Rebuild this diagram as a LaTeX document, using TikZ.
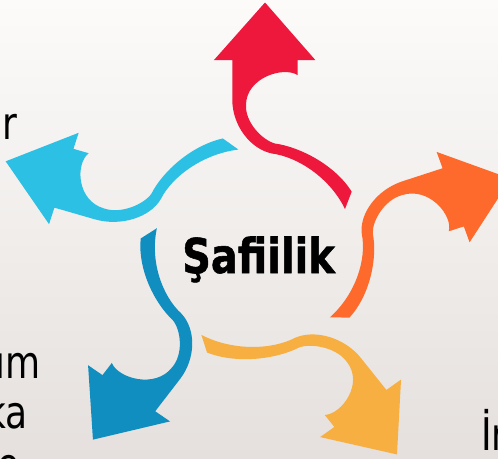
\documentclass[tikz,border=0pt]{standalone}
\usepackage{fontspec}
\setmainfont{DejaVu Sans}
\newfontfamily\titlefont[FakeBold=1.2]{DejaVu Sans Bold}
\usepackage{graphicx}
\definecolor{cRed}{RGB}{238,24,60}
\definecolor{cOrange}{RGB}{253,106,44}
\definecolor{cYellow}{RGB}{246,175,64}
\definecolor{cDarkBlue}{RGB}{17,142,192}
\definecolor{cCyan}{RGB}{43,192,228}
\definecolor{bgTop}{RGB}{252,251,250}
\definecolor{bgBot}{RGB}{229,224,221}
% #1 colour, #2 rotation, #3 centre x, #4 centre y
\newcommand{\PetalArrow}[4]{%
  \begin{scope}[shift={(#3,#4)}, xscale=1.06, rotate=#2]
    \fill[#1] (11.04,-244.9) -- (58.49,-187.4) -- (41.70,-187.4) -- (41.70,-172.4)
      .. controls (28.02,-181.4) and (-6.89,-169.4) .. (-6.89,-142.4)
      .. controls (-7.83,-125.4) and (8.21,-107.4) .. (20.47,-103.9)
      .. controls (44.06,-100.4) and (77.08,-82.4) .. (92.83,-55.7)
      -- (86.51,-38.4)
      .. controls (72.36,-69.4) and (42.17,-90.4) .. (17.64,-93.9)
      .. controls (-3.11,-98.4) and (-19.81,-122.4) .. (-19.81,-147.4)
      -- (-19.81,-187.4) -- (-37.08,-187.4) -- cycle;
  \end{scope}}
\tikzset{
  sidetext/.style={inner sep=0pt, text=black, font=\fontsize{45}{45}\selectfont},
  titletext/.style={inner sep=0pt, text=black, font=\titlefont\fontsize{48}{48}\selectfont}
}
\begin{document}
\begin{tikzpicture}[x=1pt,y=-1pt]
  \useasboundingbox (0,0) rectangle (498,458);
  \clip (0,0) rectangle (498,458);
  \shade[top color=bgTop, bottom color=bgBot] (0,0) rectangle (498,458);
  \PetalArrow{cRed}{0}{253.3}{247.4}
  \PetalArrow{cOrange}{-71}{261.6}{248.0}
  \PetalArrow{cYellow}{-143}{250.1}{252.2}
  \PetalArrow{cDarkBlue}{-216}{255.0}{248.0}
  \PetalArrow{cCyan}{-287}{250.5}{243.5}
  \node[titletext, anchor=base] (title) at (258.5,273) {\scalebox{0.83}[1]{Şafiilik}};
  \node[sidetext, anchor=base east] (t1) at (18,139) {\scalebox{0.8}[1]{r}};
  \node[sidetext, anchor=base east] (t2) at (40.5,378) {\scalebox{0.8}[1]{um}};
  \node[sidetext, anchor=base east] (t3) at (28,428) {\scalebox{0.8}[1]{ka}};
  \node[sidetext, anchor=base east] (t4) at (20,480) {\scalebox{0.8}[1]{e}};
  \node[sidetext, anchor=base west] (t5) at (481,450) {\scalebox{0.8}[1]{İr}};
\end{tikzpicture}
\end{document}
